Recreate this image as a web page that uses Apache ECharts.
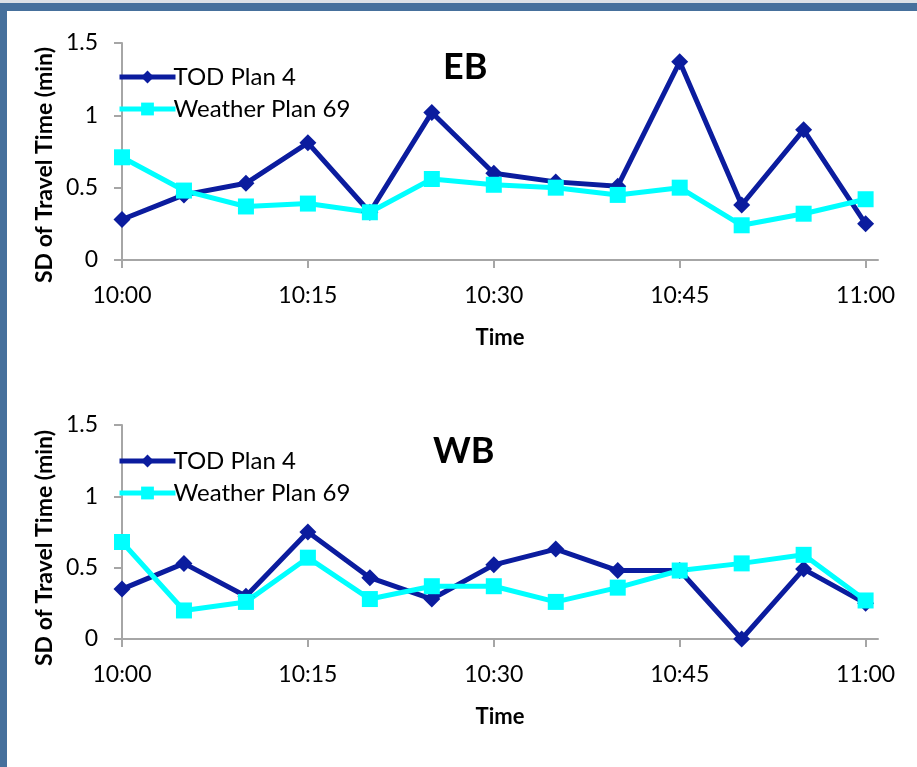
<!DOCTYPE html>
<html>
<head>
<meta charset="utf-8">
<script src="https://cdn.jsdelivr.net/npm/echarts@6/dist/echarts.min.js"></script>
<style>
html,body{margin:0;padding:0;background:#fff;}
#c{width:917px;height:767px;}
</style>
</head>
<body>
<div id="c"></div>
<script>
// ---- data ----
var times = ['10:00','10:05','10:10','10:15','10:20','10:25','10:30','10:35','10:40','10:45','10:50','10:55','11:00'];
var tickLabels = ['10:00','10:15','10:30','10:45','11:00'];
var ebTOD     = [0.28,0.45,0.53,0.81,0.33,1.02,0.60,0.54,0.51,1.37,0.38,0.90,0.25];
var ebWeather = [0.71,0.48,0.37,0.39,0.33,0.56,0.52,0.50,0.45,0.50,0.24,0.32,0.42];
var wbTOD     = [0.35,0.53,0.30,0.75,0.43,0.28,0.52,0.63,0.48,0.48,0.00,0.49,0.25];
var wbWeather = [0.68,0.20,0.26,0.57,0.28,0.37,0.37,0.26,0.36,0.48,0.53,0.59,0.27];
var seriesNames = ['TOD Plan 4','Weather Plan 69'];
var panelTitles = ['EB','WB'];

function toMin(t){var p=t.split(':');return (+p[0]-10)*60+(+p[1]);}
function minToLabel(m){var h=10+Math.floor(m/60);var mm=m%60;return h+':'+(mm<10?'0':'')+mm;}
var tickMins = tickLabels.map(toMin);
function pairs(vals){return vals.map(function(v,i){return [toMin(times[i]),v];});}

var FONT = 'Lato, "Open Sans", sans-serif';
var DARK = '#0B1C9E';
var CYAN = '#00FFFF';
var AXIS = '#A6A6A6';

var grids = [
  {left:122,right:39,top:43,height:217},
  {left:122,right:39,top:425,height:214}
];

function xAx(i){
  return {
    type:'value', gridIndex:i, min:0, max:61,
    axisLine:{lineStyle:{color:AXIS,width:2}},
    axisTick:{show:true,length:8,lineStyle:{color:AXIS,width:2},customValues:tickMins},
    axisLabel:{customValues:tickMins,formatter:function(v){return minToLabel(v);},color:'#000',fontFamily:FONT,fontSize:23,margin:24},
    splitLine:{show:false},
    name:'Time', nameLocation:'middle', nameGap:67,
    nameTextStyle:{fontFamily:FONT,fontWeight:'bold',fontSize:22,color:'#000'}
  };
}
function yAx(i){
  return {
    type:'value', gridIndex:i, min:0, max:1.5, interval:0.5,
    axisLine:{show:true,lineStyle:{color:AXIS,width:2}},
    axisTick:{show:true,length:8,lineStyle:{color:AXIS,width:2}},
    axisLabel:{color:'#000',fontFamily:FONT,fontSize:23,margin:24},
    splitLine:{show:false}
  };
}
function mk(name,data,i,color,symbol,size){
  return {
    name:name,type:'line',xAxisIndex:i,yAxisIndex:i,data:pairs(data),
    symbol:symbol,symbolSize:size,showAllSymbol:true,
    lineStyle:{color:color,width:5},
    itemStyle:{color:color,borderWidth:0},
    emphasis:{disabled:true},animation:false
  };
}
function legend(top){
  return {
    orient:'vertical',left:112,top:top,itemWidth:56,itemHeight:16,itemGap:8,
    data:seriesNames,
    lineStyle:{width:5},
    textStyle:{fontFamily:FONT,fontSize:24,color:'#000',padding:[0,0,0,-7]},
    selectedMode:false
  };
}

var option = {
  backgroundColor:'#fff',
  animation:false,
  grid:grids,
  xAxis:[xAx(0),xAx(1)],
  yAxis:[yAx(0),yAx(1)],
  legend:[legend(60),legend(444)],
  title:[
    {text:panelTitles[0],left:438,top:44,textStyle:{fontFamily:FONT,fontWeight:'bold',fontSize:36,color:'#000'}},
    {text:panelTitles[1],left:428,top:428,textStyle:{fontFamily:FONT,fontWeight:'bold',fontSize:36,color:'#000'}}
  ],
  graphic:[
    {type:'rect',shape:{x:0,y:0,width:917,height:3},style:{fill:'#DDE1E6'},silent:true},
    {type:'rect',shape:{x:0,y:3,width:917,height:8},style:{fill:'#46709C'},silent:true},
    {type:'rect',shape:{x:0,y:3,width:7,height:764},style:{fill:'#46709C'},silent:true},
    {type:'text',x:45,y:165,rotation:Math.PI/2,style:{text:'SD of Travel Time (min)',fontFamily:FONT,fontWeight:'bold',fontSize:23,fill:'#000',align:'center',verticalAlign:'middle'},silent:true},
    {type:'text',x:45,y:548,rotation:Math.PI/2,style:{text:'SD of Travel Time (min)',fontFamily:FONT,fontWeight:'bold',fontSize:23,fill:'#000',align:'center',verticalAlign:'middle'},silent:true}
  ],
  series:[
    mk(seriesNames[0],ebTOD,0,DARK,'diamond',17),
    mk(seriesNames[1],ebWeather,0,CYAN,'rect',16),
    mk(seriesNames[0],wbTOD,1,DARK,'diamond',17),
    mk(seriesNames[1],wbWeather,1,CYAN,'rect',16)
  ]
};
var chart = echarts.init(document.getElementById('c'),null,{renderer:'canvas'});
chart.setOption(option);
</script>
</body>
</html>
